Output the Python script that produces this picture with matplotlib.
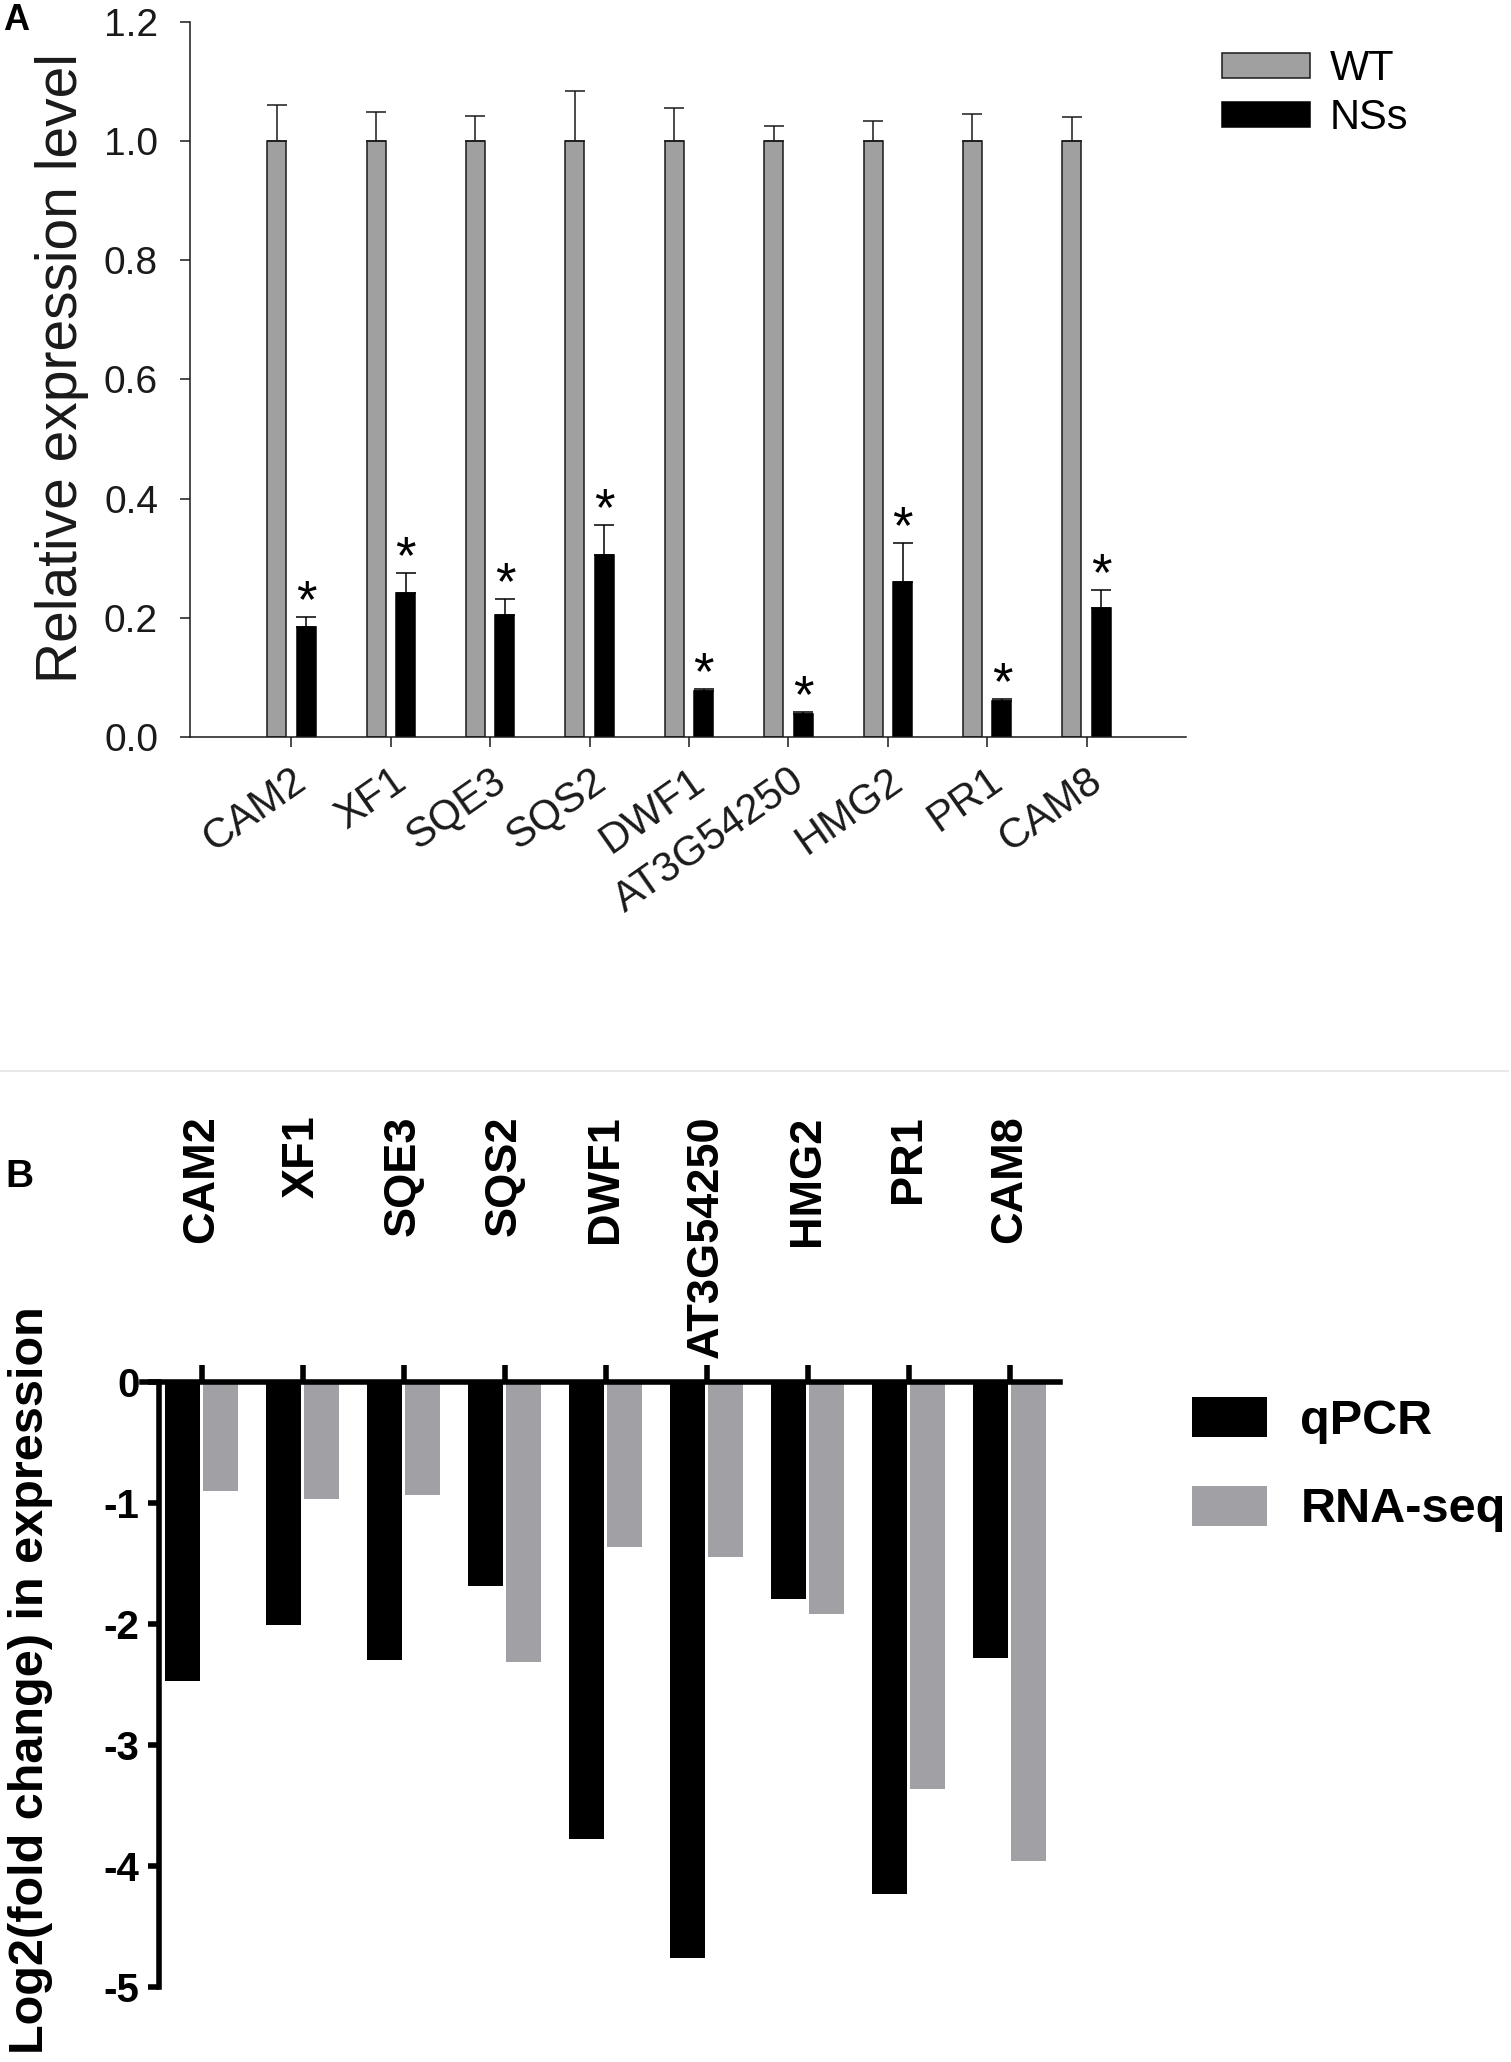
"""
Two-panel figure: qPCR validation (A) and log2 fold change comparison (B)
"""

import numpy as np
import matplotlib
matplotlib.use("Agg")
import matplotlib.pyplot as plt
from matplotlib.transforms import ScaledTranslation

plt.rcParams['font.family'] = ['Liberation Sans', 'DejaVu Sans']
plt.rcParams['axes.unicode_minus'] = False

genes = ["CAM2", "XF1", "SQE3", "SQS2", "DWF1", "AT3G54250", "HMG2", "PR1", "CAM8"]

# panel A: relative expression (mean, upper error)
wt_mean = [1.0, 1.0, 1.0, 1.0, 1.0, 1.0, 1.0, 1.0, 1.0]
wt_err = [0.060, 0.049, 0.042, 0.085, 0.055, 0.025, 0.034, 0.046, 0.040]
ns_mean = [0.184, 0.241, 0.204, 0.306, 0.078, 0.039, 0.260, 0.060, 0.217]
ns_err = [0.017, 0.034, 0.027, 0.049, 0.003, 0.003, 0.065, 0.003, 0.029]

# panel B: log2 fold change
qpcr = [-2.47, -2.01, -2.30, -1.69, -3.78, -4.76, -1.79, -4.23, -2.28]
rnaseq = [-0.90, -0.97, -0.93, -2.31, -1.36, -1.45, -1.92, -3.36, -3.96]

W, H = 1511, 2062
fig = plt.figure(figsize=(W / 100, H / 100), dpi=100)

def fx(px):
    return px / W

def fy(py):
    return 1 - py / H

# ---------------- panel A ----------------
axA = fig.add_axes([fx(190), fy(737), fx(1186) - fx(190), fy(22) - fy(737)])
x = np.arange(len(genes))
off = 0.148
bw = 0.19
zeros = np.zeros(len(genes))

axA.bar(x - off, wt_mean, bw, color='#a0a0a0', edgecolor='#1a1a1a', linewidth=1.1,
        yerr=[zeros, wt_err], capsize=7.5,
        error_kw=dict(elinewidth=1.1, capthick=1.1, ecolor='#1a1a1a'), label='WT', zorder=2)
axA.bar(x + off, ns_mean, bw, color='black', edgecolor='black', linewidth=1.1,
        yerr=[zeros, ns_err], capsize=7.5,
        error_kw=dict(elinewidth=1.1, capthick=1.1, ecolor='black'), label='NSs', zorder=2)

for xi, m, e in zip(x, ns_mean, ns_err):
    axA.annotate('*', xy=(xi + off, m + e), xytext=(0, 0), textcoords='offset points',
                 ha='center', va='baseline', fontsize=38)

axA.set_xlim(-1.02, 9.0)
axA.set_ylim(0, 1.2)
axA.set_yticks(np.arange(0, 1.21, 0.2))
axA.set_yticklabels(["%.1f" % v for v in np.arange(0, 1.21, 0.2)], fontsize=28, color='#1a1a1a')
axA.set_xticks(x)
axA.set_xticklabels(genes, fontsize=30, rotation=35, ha='right', rotation_mode='anchor',
                    color='#1a1a1a')
for lab in axA.get_xticklabels():
    lab.set_transform(lab.get_transform() + ScaledTranslation(0.09, 0, fig.dpi_scale_trans))
axA.tick_params(axis='y', length=7, width=1.1, pad=16, colors='#1a1a1a')
axA.tick_params(axis='x', length=7, width=1.1, pad=10, colors='#1a1a1a')
for s in ['top', 'right']:
    axA.spines[s].set_visible(False)
for s in ['left', 'bottom']:
    axA.spines[s].set_linewidth(1.1)
    axA.spines[s].set_color('#1a1a1a')

fig.text(fx(62), fy(368), "Relative expression level", rotation=90, ha='center',
         va='center', fontsize=41, color='#1a1a1a')
fig.text(fx(3), fy(20), "A", ha='left', va='center', fontsize=26, fontweight='bold')

hA, lA = axA.get_legend_handles_labels()
fig.legend([h.patches[0] for h in hA], lA, loc='upper left',
           bbox_to_anchor=(fx(1222), fy(49)), frameon=False, fontsize=30,
           handlelength=2.1, handleheight=0.53, handletextpad=0.48,
           labelspacing=0.22, borderpad=0, borderaxespad=0)

# separator
fig.add_artist(plt.Line2D([0, fx(1508)], [fy(1071), fy(1071)], color='#e8e8e8', linewidth=1.5))

# ---------------- panel B ----------------
axB = fig.add_axes([fx(142), fy(1987), fx(1060) - fx(142), fy(1382) - fy(1987)])
bw2 = 0.35
off2 = 0.19
axB.bar(x - off2, qpcr, bw2, color='black', label='qPCR', zorder=2)
axB.bar(x + off2, rnaseq, bw2, color='#a1a1a5', label='RNA-seq', zorder=2)

axB.set_xlim(-0.59, 8.5)
axB.set_ylim(-5, 0)
axB.spines['bottom'].set_visible(False)
axB.spines['right'].set_visible(False)
axB.spines['left'].set_position(('data', -0.42))
for s in ['top', 'left']:
    axB.spines[s].set_linewidth(4)
    axB.spines[s].set_zorder(3)

axB.xaxis.set_ticks_position('top')
axB.set_xticks(x)
axB.set_xticklabels(genes, fontsize=32.5, fontweight='bold', rotation=90)
axB.tick_params(axis='x', length=12, width=4, pad=180)
for t in axB.xaxis.get_major_ticks():
    t.label2.set_va('top')

axB.set_yticks([0, -1, -2, -3, -4, -5])
axB.set_yticklabels(["0", "-1", "-2", "-3", "-4", "-5"], fontsize=29, fontweight='bold')
axB.tick_params(axis='y', length=8, width=4, pad=6)

fig.text(fx(31), fy(1680), "Log2(fold change) in expression", rotation=90, ha='center',
         va='center', fontsize=35, fontweight='bold')
fig.text(fx(5), fy(1177), "B", ha='left', va='center', fontsize=28, fontweight='bold')

hB, lB = axB.get_legend_handles_labels()
fig.legend([h.patches[0] for h in hB], lB, loc='upper left',
           bbox_to_anchor=(fx(1192), fy(1397)), frameon=False,
           prop=dict(size=35, weight='bold'),
           handlelength=1.55, handleheight=0.89, handletextpad=0.68,
           labelspacing=0.86, borderpad=0, borderaxespad=0)

fig.savefig("out.png", dpi=100)
